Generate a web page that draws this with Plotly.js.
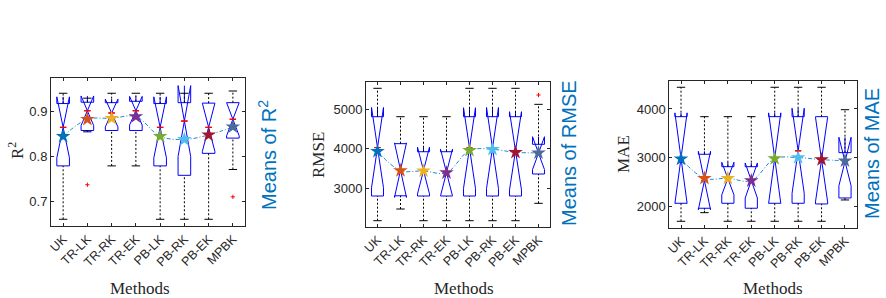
<!DOCTYPE html>
<html><head><meta charset="utf-8">
<script src="https://cdn.plot.ly/plotly-3.0.1.min.js"></script>
<style>html,body{margin:0;padding:0;background:#fff}#chart{width:886px;height:298px}</style>
</head><body><div id="chart"></div>
<script>
const methods = ['UK','TR-LK','TR-RK','TR-EK','PB-LK','PB-RK','PB-EK','MPBK'];
const starColors = ['#0072BD','#D95319','#EDB120','#7E2F8E','#77AC30','#4DBEEE','#A2142F','#4C6A9A'];

// R^2
const r2Upper  = [0.941, 0.930, 0.941, 0.941, 0.941, 0.941, 0.941, 0.946];
const r2Q3     = [0.918, 0.921, 0.920, 0.923, 0.918, 0.920, 0.919, 0.920];
const r2Median = [0.865, 0.902, 0.897, 0.902, 0.865, 0.879, 0.865, 0.883];
const r2Q1     = [0.779, 0.858, 0.858, 0.858, 0.779, 0.758, 0.807, 0.841];
const r2Lower  = [0.660, 0.855, 0.779, 0.779, 0.660, 0.660, 0.660, 0.771];
const r2Notch  = [0.068, 0.033, 0.031, 0.032, 0.068, 0.079, 0.054, 0.037];
const r2Mean   = [0.845, 0.883, 0.885, 0.889, 0.845, 0.838, 0.848, 0.866];
const r2OutX   = ['TR-LK','MPBK'];
const r2OutY   = [0.737, 0.710];

// RMSE
const rmseUpper  = [5532, 4813, 4813, 4813, 5532, 5532, 5532, 5126];
const rmseQ3     = [4813, 4130, 3926, 3926, 4813, 4813, 4813, 4114];
const rmseMedian = [4030, 3460, 3450, 3400, 4020, 4020, 3950, 3890];
const rmseQ1     = [2805, 2810, 2805, 2805, 2805, 2805, 2805, 3362];
const rmseLower  = [2180, 2476, 2180, 2180, 2180, 2180, 2180, 2620];
const rmseNotch  = [1015, 690, 590, 590, 1020, 1025, 990, 416];
const rmseMean   = [3935, 3450, 3440, 3395, 3960, 3987, 3910, 3900];
const rmseOutX   = ['MPBK'];
const rmseOutY   = [5362];

// MAE
const maeUpper  = [4446, 3842, 3842, 3842, 4446, 4446, 4446, 3985];
const maeQ3     = [3842, 3069, 2814, 2814, 3842, 3842, 3842, 3102];
const maeMedian = [2990, 2530, 2570, 2530, 2990, 3140, 2960, 2920];
const maeQ1     = [2062, 1960, 2062, 1960, 2062, 2062, 2048, 2171];
const maeLower  = [1692, 1869, 1692, 1692, 1692, 1692, 1692, 2130];
const maeNotch  = [930, 600, 335, 360, 930, 874, 870, 498];
const maeMean   = [2973, 2576, 2576, 2527, 2980, 3000, 2959, 2935];
const maeOutX   = [];
const maeOutY   = [];

const yTicks1 = [0.7, 0.8, 0.9];
const yTicks2 = [3000, 4000, 5000];
const yTicks3 = [2000, 3000, 4000];

const axisColor = '#262626';
const blueTitle = '#0072BD';

function panelTraces(n, upper, q3, med, q1, lower, notch, means, outX, outY) {
  const xa = n === 1 ? 'x' : 'x' + n;
  const ya = n === 1 ? 'y' : 'y' + n;
  const wx = [], wy = [];
  methods.forEach((m, i) => {
    wx.push(m, m, null, m, m, null);
    wy.push(q3[i], upper[i], null, lower[i], q1[i], null);
  });
  const traces = [
    {type:'scatter', mode:'lines', x:wx, y:wy, xaxis:xa, yaxis:ya,
     line:{color:'#000', width:1, dash:'2px,2px'}, hoverinfo:'skip', showlegend:false},
    {type:'scatter', mode:'markers', x:methods.concat(methods), y:upper.concat(lower), xaxis:xa, yaxis:ya,
     marker:{symbol:'line-ew', size:6, color:'#000', line:{color:'#000', width:1}}, hoverinfo:'skip', showlegend:false},
    {type:'box', x:methods, q1:q1, median:med, q3:q3, lowerfence:q1, upperfence:q3,
     notchspan:notch, notched:true, notchwidth:0.5, width:0.52, whiskerwidth:0,
     line:{color:'#0000FF', width:1}, fillcolor:'rgba(0,0,0,0)', xaxis:xa, yaxis:ya,
     boxpoints:false, hoverinfo:'skip', showlegend:false},
    {type:'box', x:methods, q1:med, median:med, q3:med, lowerfence:med, upperfence:med,
     width:0.26, whiskerwidth:0, line:{color:'#FF0000', width:1}, fillcolor:'rgba(0,0,0,0)',
     xaxis:xa, yaxis:ya, boxpoints:false, hoverinfo:'skip', showlegend:false},
    {type:'scatter', mode:'lines', x:methods, y:means, xaxis:xa, yaxis:ya,
     line:{color:'#1F8AD0', width:1, dash:'4px,2px,1px,2px', shape:'spline', smoothing:1},
     hoverinfo:'skip', showlegend:false},
    {type:'scatter', mode:'markers', x:methods, y:means, xaxis:xa, yaxis:ya,
     marker:{symbol:'star', size:11, color:starColors, line:{width:0}}, hoverinfo:'skip', showlegend:false}
  ];
  if (outX.length) {
    traces.push({type:'scatter', mode:'markers', x:outX, y:outY, xaxis:xa, yaxis:ya,
     marker:{symbol:'cross-thin', size:3, line:{color:'#FF0000', width:1}}, hoverinfo:'skip', showlegend:false});
  }
  return traces;
}

const data = [].concat(
  panelTraces(1, r2Upper, r2Q3, r2Median, r2Q1, r2Lower, r2Notch, r2Mean, r2OutX, r2OutY),
  panelTraces(2, rmseUpper, rmseQ3, rmseMedian, rmseQ1, rmseLower, rmseNotch, rmseMean, rmseOutX, rmseOutY),
  panelTraces(3, maeUpper, maeQ3, maeMedian, maeQ1, maeLower, maeNotch, maeMean, maeOutX, maeOutY)
);

const W = 886, H = 298;
function xAxis(l, r, anchor) {
  return {domain:[l/W, r/W], anchor:anchor, type:'category', range:[-0.5, 7.5],
    tickangle:-45, ticks:'inside', ticklen:3, tickcolor:axisColor, mirror:'ticks',
    showline:true, linecolor:axisColor, linewidth:1, showgrid:false, zeroline:false,
    tickfont:{family:'Liberation Sans, Arial, sans-serif', size:12.5, color:axisColor}};
}
function yAxis(t, b, anchor, range, tv) {
  return {domain:[1 - b/H, 1 - t/H], anchor:anchor, range:range, tickvals:tv, tickformat:'d',
    ticks:'inside', ticklen:3, tickcolor:axisColor, mirror:'ticks',
    showline:true, linecolor:axisColor, linewidth:1, showgrid:false, zeroline:false,
    tickfont:{family:'Liberation Sans, Arial, sans-serif', size:13, color:axisColor}};
}

const y1 = yAxis(78, 226, 'x', [0.645, 0.975], yTicks1); y1.tickformat = '.1f';

function ann(text, px, py, opts) {
  return Object.assign({text:text, x:px/W, y:1 - py/H, xref:'paper', yref:'paper',
    showarrow:false, xanchor:'center', yanchor:'middle'}, opts);
}
const serif = {family:'Liberation Serif, Times New Roman, serif', size:17, color:axisColor};
const sansBlue = {family:'Liberation Sans, Arial, sans-serif', size:20, color:blueTitle};

const layout = {
  width:W, height:H, margin:{l:0, r:0, t:0, b:0},
  paper_bgcolor:'#fff', plot_bgcolor:'#fff', boxmode:'overlay', showlegend:false,
  xaxis:  xAxis(51, 245, 'y'),
  yaxis:  y1,
  xaxis2: xAxis(366, 550, 'y2'),
  yaxis2: yAxis(81.7, 226.7, 'x2', [2028, 5699], yTicks2),
  xaxis3: xAxis(669.3, 856.7, 'y3'),
  yaxis3: yAxis(80.7, 227.7, 'x3', [1560, 4581], yTicks3),
  annotations: [
    ann('R<sup>2</sup>', 16, 150, {textangle:-90, font:serif}),
    ann('RMSE', 318, 155, {textangle:-90, font:serif}),
    ann('MAE', 623, 154, {textangle:-90, font:serif}),
    ann('Means of R<sup>2</sup>', 267, 155, {textangle:-90, font:sansBlue}),
    ann('Means of RMSE', 569, 153, {textangle:-90, font:sansBlue}),
    ann('Means of MAE', 872, 154, {textangle:-90, font:sansBlue}),
    ann('Methods', 140, 288, {font:serif}),
    ann('Methods', 464, 288, {font:serif}),
    ann('Methods', 773, 288, {font:serif})
  ]
};

Plotly.newPlot('chart', data, layout, {displayModeBar:false, staticPlot:true});
</script>
</body></html>
